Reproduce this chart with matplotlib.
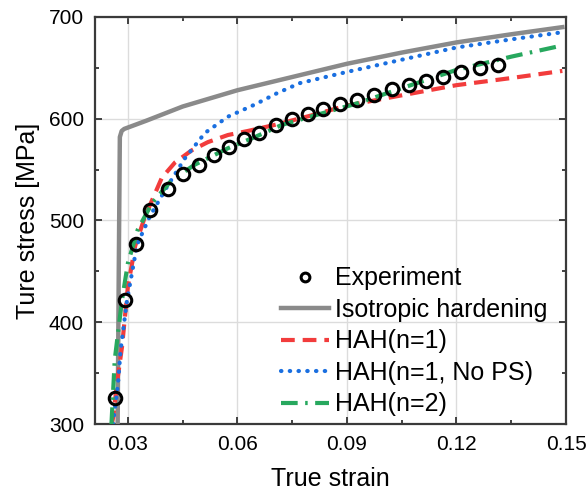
import numpy as np
import matplotlib
matplotlib.use("Agg")
import matplotlib.pyplot as plt
from matplotlib.ticker import MultipleLocator

plt.rcParams["font.family"] = ["Liberation Sans", "DejaVu Sans"]

# ----------------------------
# Data
# ----------------------------
exp_strain = [0.0264, 0.0292, 0.0322, 0.0360, 0.0410, 0.0451, 0.0494, 0.0536,
              0.0577, 0.0618, 0.0659, 0.0705, 0.0749, 0.0793, 0.0834, 0.0881,
              0.0927, 0.0974, 0.1023, 0.1070, 0.1117, 0.1163, 0.1212, 0.1264,
              0.1314]
exp_stress = [326, 422, 477, 510, 531, 546, 555, 564,
              572, 580, 586, 594, 600, 605, 610, 614,
              618, 623, 629, 633, 637, 641, 646, 650,
              653]

iso_strain = [0.0272, 0.0275, 0.0278, 0.0283, 0.0290, 0.035, 0.045, 0.060,
              0.075, 0.090, 0.105, 0.120, 0.135, 0.149]
iso_stress = [300, 450, 582, 588, 590, 598, 612, 628,
              641, 654, 665, 675, 683, 690]

hah1_strain = [0.0256, 0.0260, 0.0270, 0.0284, 0.0300, 0.0320, 0.0347, 0.0393,
               0.0429, 0.0475, 0.0519, 0.0574, 0.0629, 0.0703, 0.080, 0.090,
               0.105, 0.120, 0.135, 0.149]
hah1_stress = [300, 307, 340, 376, 435, 475, 504, 542,
               557, 569, 577, 584, 588, 594, 603, 613,
               623, 633, 640, 647]

hahps_strain = [0.0259, 0.0266, 0.0273, 0.0280, 0.0297, 0.0325, 0.0360, 0.0407,
                0.0456, 0.0511, 0.0574, 0.0648, 0.0708, 0.0771,
                0.090, 0.105, 0.120, 0.135, 0.149]
hahps_stress = [300, 320, 340, 372, 420, 476, 504, 533,
                561, 586, 602, 614, 625, 635,
                646, 658, 670, 678, 685]

hah2_strain = [0.0255, 0.0264, 0.0284, 0.0300, 0.0327, 0.0366, 0.0421, 0.0484,
               0.0574, 0.0648, 0.0722, 0.080, 0.0927, 0.105, 0.120, 0.135, 0.149]
hah2_stress = [300, 363, 422, 458, 491, 517, 540, 555,
               571, 582, 594, 602, 615, 630, 648, 661, 672]

x_ticks = [0.03, 0.06, 0.09, 0.12, 0.15]
x_ticklabels = ["0.03", "0.06", "0.09", "0.12", "0.15"]
y_ticks = [300, 400, 500, 600, 700]


def main():
    fig = plt.figure(figsize=(5.88, 4.95), dpi=100)
    ax = fig.add_axes([0.1616, 0.1434, 0.8010, 0.8223])

    ax.grid(True, color="#dcdcdc", lw=1.0, zorder=0)

    ax.plot(exp_strain, exp_stress, "o", ms=9, mfc="none", mec="black",
            mew=2.2, label="Experiment", zorder=5)
    ax.plot(iso_strain, iso_stress, "-", color="#8a8a8a", lw=3.2,
            label="Isotropic hardening", zorder=3)
    ax.plot(hah1_strain, hah1_stress, color="#f23c3c", lw=3.0,
            dashes=(3.3, 1.9), label="HAH(n=1)", zorder=4)
    ax.plot(hahps_strain, hahps_stress, color="#1a6fe0", lw=3.0,
            dashes=(0.1, 2.0), dash_capstyle="round",
            label="HAH(n=1, No PS)", zorder=4)
    ax.plot(hah2_strain, hah2_stress, color="#27a85e", lw=3.0,
            dashes=(4.0, 1.8, 0.6, 1.8), label="HAH(n=2)", zorder=4)

    ax.set_xlim(0.021, 0.15)
    ax.set_ylim(300, 700)
    ax.set_xticks(x_ticks)
    ax.set_xticklabels(x_ticklabels)
    ax.set_yticks(y_ticks)
    ax.xaxis.set_minor_locator(MultipleLocator(0.015))
    ax.yaxis.set_minor_locator(MultipleLocator(50))
    ax.tick_params(which="both", direction="in", top=True, right=True,
                   colors="#333333", labelcolor="black", labelsize=15, width=1.3)
    ax.tick_params(which="major", length=5, pad=8)
    ax.tick_params(which="minor", length=3)
    for s in ax.spines.values():
        s.set_color("#3a3a3a")
        s.set_linewidth(1.6)

    ax.set_xlabel("True strain", fontsize=18, labelpad=9)
    ax.set_ylabel("Ture stress [MPa]", fontsize=18, labelpad=6)

    ax.legend(loc="upper left", bbox_to_anchor=(0.395, 0.387), frameon=False,
              fontsize=18, handlelength=1.92, handletextpad=0.24,
              labelspacing=0.3, borderpad=0, borderaxespad=0,
              markerscale=0.7)

    fig.savefig("out.png", dpi=100)


if __name__ == "__main__":
    main()
